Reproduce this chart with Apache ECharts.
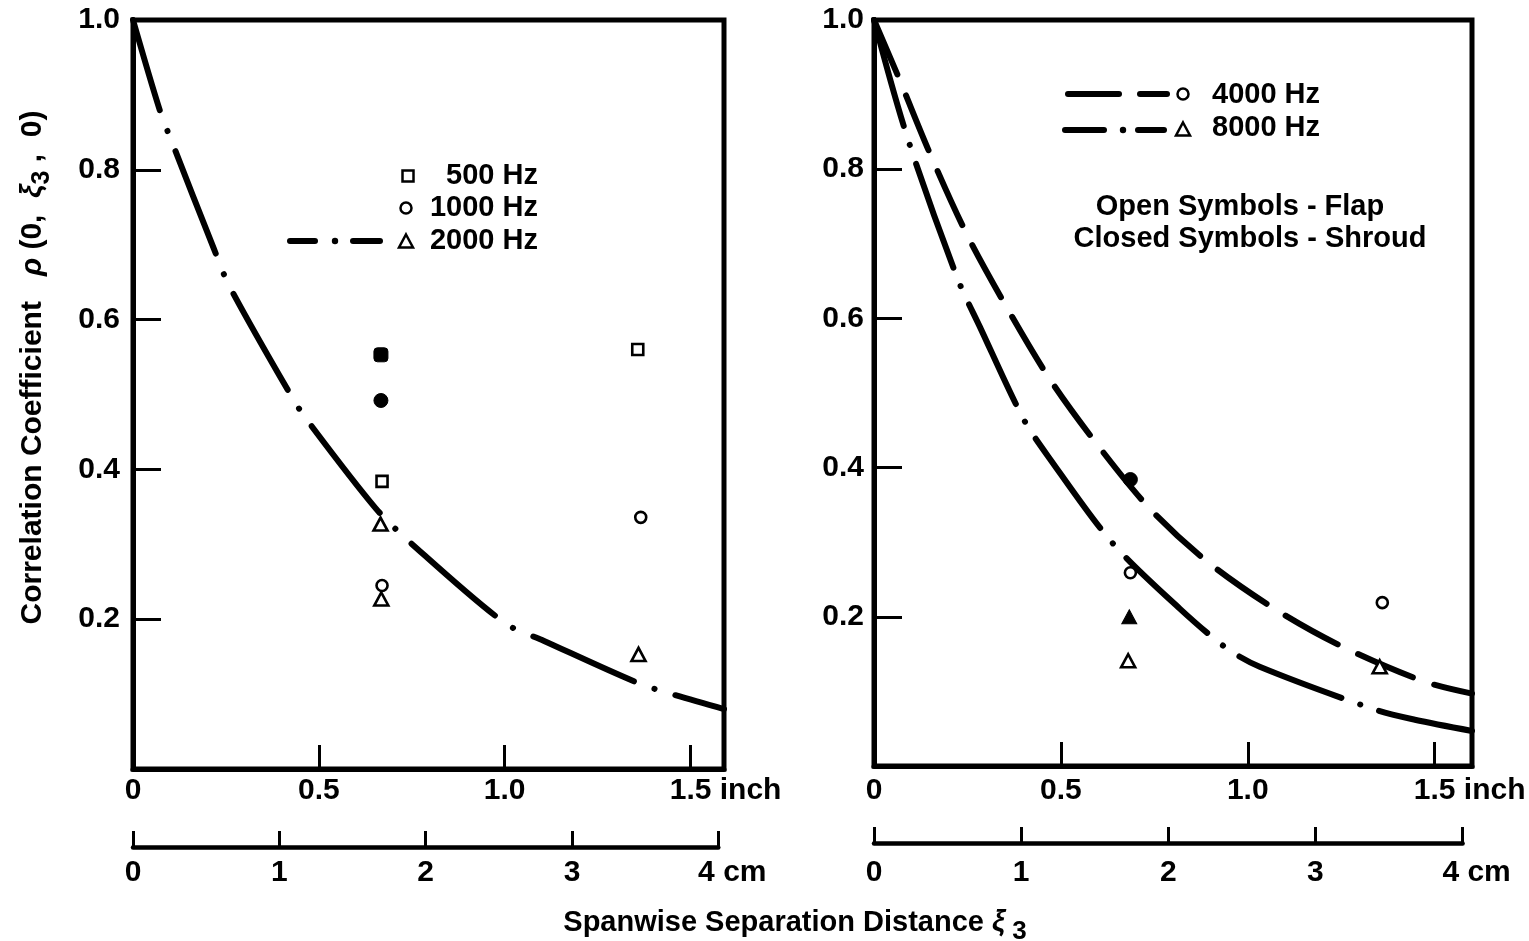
<!DOCTYPE html>
<html><head><meta charset="utf-8">
<script src="https://cdn.jsdelivr.net/npm/echarts@6/dist/echarts.min.js"></script>
<style>html,body{margin:0;padding:0;background:#fff}#c{width:1529px;height:941px}</style>
</head><body><div id="c"></div>
<script>
// ---------- data ----------
// x in inches, y = correlation coefficient
const curve2000Hz = [[0,1.000],[0.073,0.878],[0.104,0.838],[0.218,0.694],[0.259,0.645],[0.427,0.497],[0.468,0.466],[0.653,0.348],[0.749,0.301],[1.000,0.195],[1.106,0.171],[1.353,0.116],[1.449,0.100],[1.590,0.080]];
const curve4000Hz = [[0,1.000],[0.065,0.924],[0.148,0.823],[0.249,0.712],[0.364,0.607],[0.471,0.518],[0.591,0.435],[0.738,0.345],[0.894,0.273],[1.077,0.209],[1.253,0.160],[1.473,0.113],[1.600,0.097]];
const curve8000Hz = [[0,1.000],[0.087,0.846],[0.223,0.654],[0.283,0.589],[0.399,0.466],[0.466,0.415],[0.638,0.299],[0.818,0.211],[0.943,0.158],[1.032,0.133],[1.344,0.075],[1.447,0.062],[1.600,0.047]];

const flap500    = [[0.670,0.384],[1.358,0.560]];
const shroud500  = [[0.667,0.553]];
const flap1000   = [[0.670,0.245],[1.366,0.336]];
const shroud1000 = [[0.667,0.492]];
const flap2000   = [[0.666,0.327],[0.668,0.227],[1.360,0.153]];

const flap4000   = [[0.686,0.259],[1.360,0.219]];
const shroud4000 = [[0.686,0.384]];
const flap8000   = [[0.680,0.141],[1.353,0.133]];
const shroud8000 = [[0.683,0.200]];

const inchTicks  = [0, 0.5, 1.0, 1.5];
const inchLabels = ['0', '0.5', '1.0', '1.5 inch'];
const cmTicks    = [0, 1, 2, 3, 4];
const cmLabels   = ['0', '1', '2', '3', '4 cm'];
const yTicks     = [0.2, 0.4, 0.6, 0.8, 1.0];
const yLabels    = ['0.2', '0.4', '0.6', '0.8', '1.0'];

const leftLegend  = ['500 Hz', '1000 Hz', '2000 Hz'];
const rightLegend = ['4000 Hz', '8000 Hz'];
const noteLines   = ['Open Symbols - Flap', 'Closed Symbols - Shroud'];

// ---------- styles ----------
const FONT = 'Liberation Sans';
const FW = 'bold';
const FS = 30;
const K = '#000';

function pick(ticks, labels, v, tag) {
  const i = ticks.findIndex(t => Math.abs(t - v) < 1e-6);
  if (i < 0) return '';
  const s = labels[i];
  return s.indexOf(' ') > 0 ? '{' + tag + '|' + s + '}' : s;
}
const lab = { color: K, fontFamily: FONT, fontSize: FS, fontWeight: FW };

function inchAxis(gi, max, margin) {
  return {
    gridIndex: gi, type: 'value', min: 0, max: max, interval: 0.5,
    axisLine: { show: true, onZero: false, lineStyle: { color: K, width: 5 } },
    axisTick: { show: true, inside: true, length: 24, lineStyle: { color: K, width: 3 } },
    splitLine: { show: false },
    axisLabel: Object.assign({
      margin: margin, showMaxLabel: false,
      formatter: v => pick(inchTicks, inchLabels, v, 'u'),
      rich: { u: Object.assign({ padding: [0, 0, 0, 70] }, lab) }
    }, lab)
  };
}
function cmAxis(gi, margin) {
  return {
    gridIndex: gi, type: 'value', min: 0, max: 4, interval: 1,
    axisLine: { show: true, onZero: false, lineStyle: { color: K, width: 4.5 } },
    axisTick: { show: true, inside: true, length: 16, lineStyle: { color: K, width: 3 } },
    splitLine: { show: false },
    axisLabel: Object.assign({
      margin: margin,
      formatter: v => pick(cmTicks, cmLabels, v, 'c'),
      rich: { c: Object.assign({ padding: [0, 0, 0, 28] }, lab) }
    }, lab)
  };
}
function valAxis(gi, margin, extra) {
  return Object.assign({
    gridIndex: gi, type: 'value', min: 0, max: 1, interval: 0.2,
    axisLine: { show: true, onZero: false, lineStyle: { color: K, width: 5 } },
    axisTick: { show: true, inside: true, length: 28, lineStyle: { color: K, width: 3 } },
    splitLine: { show: false },
    axisLabel: Object.assign({
      margin: margin,
      formatter: v => pick(yTicks, yLabels, v, 'u')
    }, lab)
  }, extra || {});
}

const openStyle = { color: '#fff', borderColor: K, borderWidth: 2.6, opacity: 1 };
const fillStyle = { color: K, borderColor: K, borderWidth: 1, opacity: 1 };
function sc(xi, data, symbol, size, style, name) {
  return { type: 'scatter', name: name, xAxisIndex: xi, yAxisIndex: xi, data: data,
    symbol: symbol, symbolSize: size, itemStyle: style, z: 5, silent: true };
}
function ln(xi, data, dash, offset, name) {
  return { type: 'line', name: name, xAxisIndex: xi, yAxisIndex: xi, data: data,
    symbol: 'none', smooth: 0.3, z: 3, silent: true,
    lineStyle: { color: K, width: 6, type: dash, dashOffset: offset, cap: 'round', opacity: 1 } };
}

const richSub = {
  a: { fontFamily: FONT, fontWeight: FW, fontSize: 30, color: K, lineHeight: 44 },
  i: { fontFamily: FONT, fontWeight: FW, fontSize: 30, color: K, lineHeight: 44, fontStyle: 'italic' },
  s: { fontFamily: FONT, fontWeight: FW, fontSize: 25, color: K, lineHeight: 20, verticalAlign: 'bottom' }
};
const richTitle = {
  a: { fontFamily: FONT, fontWeight: FW, fontSize: 29, color: K, lineHeight: 44 },
  i: { fontFamily: FONT, fontWeight: FW, fontSize: 29, color: K, lineHeight: 44, fontStyle: 'italic' },
  s: { fontFamily: FONT, fontWeight: FW, fontSize: 26, color: K, lineHeight: 20, verticalAlign: 'bottom' }
};

// legend / note graphics
const lw = { stroke: K, lineWidth: 6, lineCap: 'round' };
const ow = { fill: '#fff', stroke: K, lineWidth: 2.5 };
function tri(cx, cy, w, h, style) {
  return { type: 'polygon', shape: { points: [[cx, cy - h / 2], [cx + w / 2, cy + h / 2], [cx - w / 2, cy + h / 2]] }, style: style };
}
function txt(t, x, y, align, size) {
  return { type: 'text', style: { text: t, x: x, y: y, fill: K, font: FW + ' ' + (size || FS) + 'px "' + FONT + '"',
    textAlign: align, align: align, textVerticalAlign: 'middle', verticalAlign: 'middle' } };
}
const graphics = [
  // left legend
  { type: 'rect', shape: { x: 402.5, y: 170.5, width: 11, height: 11 }, style: ow },
  { type: 'circle', shape: { cx: 406, cy: 208, r: 5.5 }, style: ow },
  { type: 'line', shape: { x1: 290, y1: 241, x2: 315, y2: 241 }, style: lw },
  { type: 'circle', shape: { cx: 335, cy: 241, r: 3.2 }, style: { fill: K } },
  { type: 'line', shape: { x1: 353, y1: 241, x2: 380, y2: 241 }, style: lw },
  tri(406, 241, 14, 13, ow),
  txt(leftLegend[0], 538, 176, 'right', 29),
  txt(leftLegend[1], 538, 208, 'right', 29),
  txt(leftLegend[2], 538, 241, 'right', 29),
  // right legend
  { type: 'line', shape: { x1: 1068, y1: 94, x2: 1119, y2: 94 }, style: lw },
  { type: 'line', shape: { x1: 1140, y1: 94, x2: 1167, y2: 94 }, style: lw },
  { type: 'circle', shape: { cx: 1183, cy: 94, r: 5.5 }, style: ow },
  { type: 'line', shape: { x1: 1065, y1: 130, x2: 1104, y2: 130 }, style: lw },
  { type: 'circle', shape: { cx: 1123, cy: 130, r: 3.2 }, style: { fill: K } },
  { type: 'line', shape: { x1: 1138, y1: 130, x2: 1164, y2: 130 }, style: lw },
  tri(1183, 129, 14, 13, ow),
  txt(rightLegend[0], 1212, 95, 'left', 29),
  txt(rightLegend[1], 1212, 128, 'left', 29),
  txt(noteLines[0], 1240, 207, 'center', 29),
  txt(noteLines[1], 1250, 239, 'center', 29),
  // common x title
  { type: 'text', style: { text: '{a|Spanwise Separation Distance }{i|ξ}{s| 3}', rich: richTitle,
      x: 795, y: 923, textAlign: 'center', align: 'center', textVerticalAlign: 'middle', verticalAlign: 'middle' } }
];

const option = {
  animation: false,
  backgroundColor: '#fff',
  grid: [
    { left: 133, top: 20, width: 591, height: 749, show: true, borderColor: K, borderWidth: 5, backgroundColor: 'transparent' },
    { left: 874, top: 20, width: 598, height: 746, show: true, borderColor: K, borderWidth: 5, backgroundColor: 'transparent' },
    { left: 133, top: 800, width: 585.3, height: 47 },
    { left: 874, top: 796, width: 588.6, height: 47 }
  ],
  xAxis: [ inchAxis(0, 1.59, 7), inchAxis(1, 1.6, 10), cmAxis(2, 11), cmAxis(3, 15) ],
  yAxis: [
    valAxis(0, 13, {
      name: '{a|Correlation Coefficient   }{i|ρ}{a| (0,  }{i|ξ}{s|3}{a| ,  0)}',
      nameLocation: 'middle', nameRotate: 90, nameGap: 78,
      nameTextStyle: { rich: richSub, padding: [0, 0, 0, 54] }
    }),
    valAxis(1, 10),
    { gridIndex: 2, show: false, min: 0, max: 1 },
    { gridIndex: 3, show: false, min: 0, max: 1 }
  ],
  series: [
    ln(0, curve2000Hz, [110, 22, 0.1, 22], 16, '2000 Hz'),
    sc(0, flap500, 'rect', 11, openStyle, '500 Hz flap'),
    sc(0, shroud500, 'roundRect', 14, fillStyle, '500 Hz shroud'),
    sc(0, flap1000, 'circle', 11, openStyle, '1000 Hz flap'),
    sc(0, shroud1000, 'circle', 14, fillStyle, '1000 Hz shroud'),
    sc(0, flap2000, 'triangle', [14, 13], openStyle, '2000 Hz flap'),
    ln(1, curve4000Hz, [59, 23], 0, '4000 Hz'),
    ln(1, curve8000Hz, [110, 20, 0.1, 20], 0, '8000 Hz'),
    sc(1, flap4000, 'circle', 11, openStyle, '4000 Hz flap'),
    sc(1, shroud4000, 'circle', 14, fillStyle, '4000 Hz shroud'),
    sc(1, flap8000, 'triangle', [14, 13], openStyle, '8000 Hz flap'),
    sc(1, shroud8000, 'triangle', [15, 14], fillStyle, '8000 Hz shroud')
  ],
  graphic: graphics
};

const chart = echarts.init(document.getElementById('c'));
chart.setOption(option);
</script>
</body></html>
